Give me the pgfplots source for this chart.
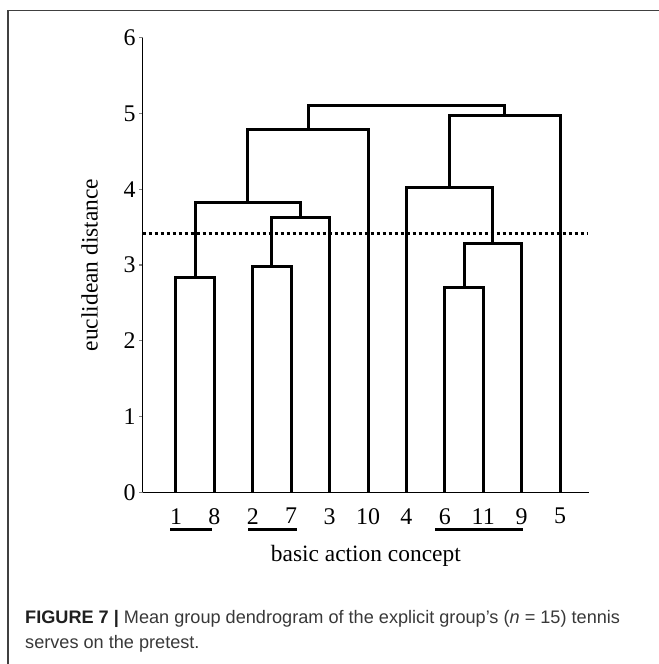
\documentclass[border=0pt]{standalone}
\usepackage{fontspec}
\setmainfont{Liberation Serif}
\newfontfamily\capfont{Liberation Sans}
\usepackage{pgfplots}
\pgfplotsset{compat=1.18}
\begin{document}
\begin{tikzpicture}
\path[use as bounding box] (0bp,0bp) rectangle (659bp,664bp);
\draw[color=black!75, line width=1.2bp] (8bp,0bp) -- (8bp,653.5bp) -- (659bp,653.5bp);
\begin{axis}[at={(142.7bp,171.7bp)}, anchor=south west, scale only axis,
 width=446.3bp, height=454.6bp,
 xmin=0.133, xmax=11.755, ymin=0, ymax=6,
 axis x line=bottom, axis y line=left,
 axis line style={line width=1.5bp, -},
 xtick={1,...,11}, xticklabels={1,8,2,7,3,10,4,6,11,9,5},
 xtick style={draw=none},
 xticklabel style={yshift=-9bp},
 ytick={0,...,6}, ytick style={line width=1.2bp},
 tick align=outside, major tick length=3.5bp,
 ticklabel style={font=\fontsize{24}{28}\selectfont},
 /pgf/number format/assume math mode=true,
 label style={font=\fontsize{23.5}{28}\selectfont},
 xlabel={basic action concept}, ylabel={euclidean distance},
 xlabel style={at={(axis description cs:0.5,-0.1527)}, anchor=base},
 ylabel style={at={(axis description cs:-0.1008,0.5)}, anchor=base},
 clip=false,
 dend/.style={black, line width=3bp, line join=miter, mark=none},
]
\addplot[dend] coordinates {(1,0) (1,2.84) (2,2.84) (2,0)};
\addplot[dend] coordinates {(3,0) (3,2.98) (4,2.98) (4,0)};
\addplot[dend] coordinates {(3.5,2.98) (3.5,3.63) (5,3.63) (5,0)};
\addplot[dend] coordinates {(1.5,2.84) (1.5,3.82) (4.25,3.82) (4.25,3.63)};
\addplot[dend] coordinates {(2.875,3.82) (2.875,4.79) (6,4.79) (6,0)};
\addplot[dend] coordinates {(8,0) (8,2.70) (9,2.70) (9,0)};
\addplot[dend] coordinates {(8.5,2.70) (8.5,3.28) (10,3.28) (10,0)};
\addplot[dend] coordinates {(7,0) (7,4.02) (9.25,4.02) (9.25,3.28)};
\addplot[dend] coordinates {(8.125,4.02) (8.125,4.97) (11,4.97) (11,0)};
\addplot[dend] coordinates {(4.4375,4.79) (4.4375,5.10) (9.5625,5.10) (9.5625,4.97)};
\addplot[black, line width=2.8bp, dash pattern=on 3.5bp off 2.5bp, mark=none] coordinates {(0.133,3.418) (11.72,3.418)};
\draw[line width=3bp] ([yshift=-37.5bp]axis cs:0.844,0) -- ([yshift=-37.5bp]axis cs:1.9375,0);
\draw[line width=3bp] ([yshift=-37.5bp]axis cs:2.883,0) -- ([yshift=-37.5bp]axis cs:4.143,0);
\draw[line width=3bp] ([yshift=-37.5bp]axis cs:7.753,0) -- ([yshift=-37.5bp]axis cs:10.03,0);
\end{axis}
\node[anchor=base west, inner sep=0pt, text=black!78] at (25bp,40.7bp) {\capfont\fontsize{18.2}{22}\selectfont{\color{black!88}\textbf{FIGURE 7 |}} Mean group dendrogram of the explicit group’s (\textit{n} = 15) tennis};
\node[anchor=base west, inner sep=0pt, text=black!78] at (25bp,15.7bp) {\capfont\fontsize{18.2}{22}\selectfont serves on the pretest.};
\end{tikzpicture}
\end{document}
